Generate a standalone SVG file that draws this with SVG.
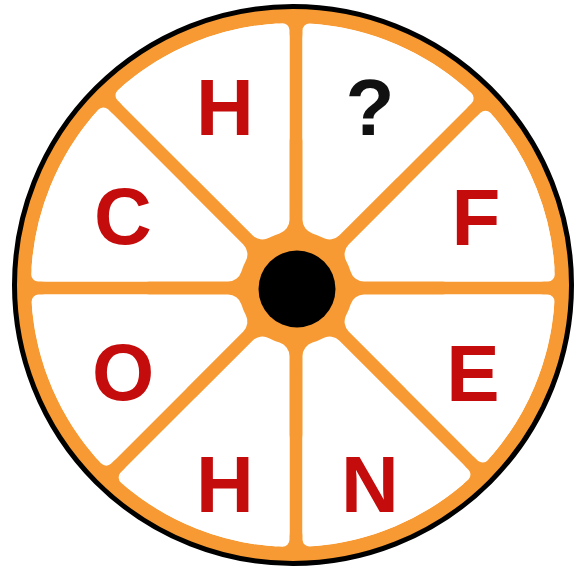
<svg xmlns="http://www.w3.org/2000/svg" width="579" height="572" viewBox="0 0 579 572">
<style>
.s1{fill:#fff;stroke:#fff;stroke-width:28;stroke-linejoin:round}
.s2{fill:#fff;stroke:#fff;stroke-width:14;stroke-linejoin:round}
.lt{font-family:"Liberation Sans",Arial,sans-serif;font-weight:bold;font-size:80px;text-anchor:middle;fill:#C40C0C}
.q{fill:#111}
</style>
<rect width="579" height="572" fill="#fff"/>
<g id="wheel">
<circle cx="293" cy="285" r="278.5" fill="#F79A33" stroke="#000" stroke-width="5"/>
</g>
<g id="segments">
<g id="seg0">
<path class="s1" d="M316.5,220.02 L316.5,38.12 A248,248 0 0 1 456.48,98.52 L329.57,225.43 A71,71 0 0 0 316.5,220.02 Z"/>
<path class="s2" d="M309.5,138 L309.5,30.53 A255,255 0 0 1 466.65,98.25 L392.52,172.38 Z"/>
</g>
<g id="seg1">
<path class="s1" d="M358.57,254.43 L484.99,128.01 A248,248 0 0 1 540.38,267.5 L363.98,267.5 A71,71 0 0 0 358.57,254.43 Z"/>
<path class="s2" d="M411.62,191.48 L485.42,117.68 A255,255 0 0 1 547.79,274.5 L446,274.5 Z"/>
</g>
<g id="seg2">
<path class="s1" d="M363.98,308.5 L539.88,308.5 A248,248 0 0 1 482.26,445.26 L358.57,321.57 A71,71 0 0 0 363.98,308.5 Z"/>
<path class="s2" d="M446,301.5 L547.47,301.5 A255,255 0 0 1 482.61,455.51 L411.62,384.52 Z"/>
</g>
<g id="seg3">
<path class="s1" d="M329.57,350.57 L453.26,474.26 A248,248 0 0 1 316.5,531.88 L316.5,355.98 A71,71 0 0 0 329.57,350.57 Z"/>
<path class="s2" d="M392.52,403.62 L463.51,474.61 A255,255 0 0 1 309.5,539.47 L309.5,438 Z"/>
</g>
<g id="seg4">
<path class="s1" d="M275.5,355.98 L275.5,532.38 A248,248 0 0 1 136.01,476.99 L262.43,350.57 A71,71 0 0 0 275.5,355.98 Z"/>
<path class="s2" d="M282.5,438 L282.5,539.79 A255,255 0 0 1 125.68,477.42 L199.48,403.62 Z"/>
</g>
<g id="seg5">
<path class="s1" d="M233.43,321.57 L106.52,448.48 A248,248 0 0 1 46.12,308.5 L228.02,308.5 A71,71 0 0 0 233.43,321.57 Z"/>
<path class="s2" d="M180.38,384.52 L106.25,458.65 A255,255 0 0 1 38.53,301.5 L146,301.5 Z"/>
</g>
<g id="seg6">
<path class="s1" d="M228.02,267.5 L45.62,267.5 A248,248 0 0 1 103.74,124.74 L233.43,254.43 A71,71 0 0 0 228.02,267.5 Z"/>
<path class="s2" d="M146,274.5 L38.21,274.5 A255,255 0 0 1 103.39,114.49 L180.38,191.48 Z"/>
</g>
<g id="seg7">
<path class="s1" d="M262.43,225.43 L132.74,95.74 A248,248 0 0 1 275.5,37.62 L275.5,220.02 A71,71 0 0 0 262.43,225.43 Z"/>
<path class="s2" d="M199.48,172.38 L122.49,95.39 A255,255 0 0 1 282.5,30.21 L282.5,138 Z"/>
</g>
</g>
<g id="hub">
<circle cx="297" cy="289" r="38.5" fill="#000"/>
</g>
<g id="labels">
<text class="lt" x="225" y="135">H</text>
<text class="lt q" x="370" y="135">?</text>
<text class="lt" x="476" y="245">F</text>
<text class="lt" x="473" y="401">E</text>
<text class="lt" x="370" y="512">N</text>
<text class="lt" x="225" y="512">H</text>
<text class="lt" x="123" y="400">O</text>
<text class="lt" x="123" y="244">C</text>
</g>
</svg>
